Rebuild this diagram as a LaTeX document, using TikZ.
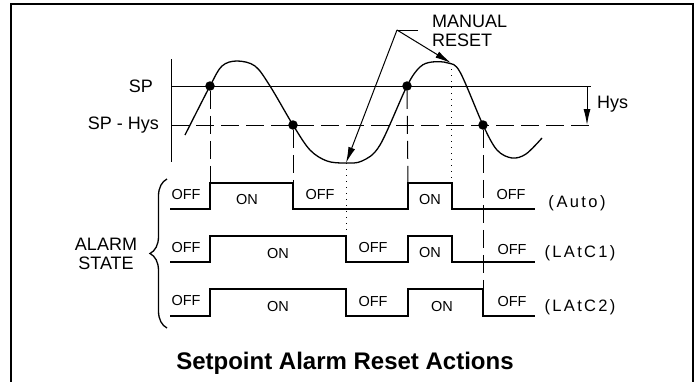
\documentclass[tikz,border=0pt]{standalone}
\usepackage{fontspec}
\setmainfont{Liberation Sans}
\usetikzlibrary{arrows.meta, positioning, calc, decorations.pathreplacing}

\begin{document}
\begin{tikzpicture}[x=1pt, y=-1pt,
  lbl/.style={font=\fontsize{18}{19.5}\selectfont, inner sep=0pt},
  st/.style={font=\fontsize{14.5}{16}\selectfont, inner sep=0pt},
  code/.style={font=\fontsize{16.5}{18}\selectfont\addfontfeature{LetterSpace=14}, inner sep=0pt},
  sig/.style={line width=1.3pt},
  fine/.style={line width=1pt},
  guide/.style={line width=1pt, dash pattern=on 18pt off 7pt},
  dots/.style={line width=1pt, dash pattern=on 1pt off 5pt},
  cross/.style={circle, fill, inner sep=0pt, minimum size=9.5pt},
  a/.style={-{Latex[length=16pt, width=7pt]}, line width=1pt}]
  \useasboundingbox (0,0) rectangle (699,381);
  % frame, open at the bottom
  \draw[line width=2.5pt] (11,390) -- (11,4) -- (693,4) -- (693,390);

  % process value against SP and SP - Hys
  \draw[fine] (171,59) -- (171,162);
  \draw[fine] (171,86) -- (591,86);
  \draw[guide] (171,125) -- (591,125);
  \node[lbl, anchor=east] (sp) at (153,86) {SP};
  \node[lbl, anchor=east] (sphys) at (159,125) {SP - Hys};
  \coordinate (hysA) at (587,86);
  \coordinate (hysB) at (587,125);
  \draw[a] (hysA) -- (hysB);
  \node[lbl, anchor=west] (hys) at (597,104) {Hys};

  \draw[sig] plot[smooth, tension=0.55] coordinates {
    (185,135) (210,86) (222,66) (237,61) (255,66) (270,86) (293,125)
    (310,150) (327,161) (345,163) (362,161) (380,145) (407,86) (420,67)
    (432,62) (448,63) (460,72) (483,125) (497,150) (512,158) (526,154) (542,138)};

  \coordinate (up1) at (210,86);
  \coordinate (dn1) at (293,125);
  \coordinate (up2) at (407,86);
  \coordinate (dn2) at (483,125);
  \coordinate (low) at (346,163);
  \coordinate (top) at (451,63);
  \node[cross] (d1) at (up1) {};
  \node[cross] (d2) at (dn1) {};
  \node[cross] (d3) at (up2) {};
  \node[cross] (d4) at (dn2) {};

  % manual reset callout
  \node[lbl, anchor=west, align=left] (manual) at (432,31) {MANUAL\\RESET};
  \coordinate (lead) at (397,30);
  \coordinate (leadend) at (418,30);
  \draw[fine] (leadend) -- (lead);
  \draw[a] (lead) -- (top);
  \draw[a] (lead) -- (low);

  % switching points carried down to the alarm states
  \draw[guide] (d1) -- (210,183);
  \draw[guide] (d2) -- (293,183);
  \draw[guide] (d3) -- (408,183);
  \draw[guide] (d4) -- (483,289);
  \draw[dots] (low) -- (346,236);
  \draw[dots] (top) -- (451,183);

  % alarm states
  \draw[sig] (170,209) -| (210,183) -| (293,209) -| (408,183) -| (452,209) -- (535,209);
  \draw[sig] (170,262) -| (210,236) -| (346,262) -| (408,236) -| (452,262) -- (535,262);
  \draw[sig] (170,316) -| (210,289) -| (346,316) -| (408,289) -| (483,316) -- (535,316);

  \node[st] (off1a) at (186,195) {OFF};
  \node[st] (on1a) at (247,200) {ON};
  \node[st] (off1b) at (320,195) {OFF};
  \node[st] (on1b) at (430,200) {ON};
  \node[st] (off1c) at (511,195) {OFF};
  \node[code] (auto) at (577,203) {(\,Auto\,)};

  \node[st] (off2a) at (186,248) {OFF};
  \node[st] (on2a) at (278,254) {ON};
  \node[st] (off2b) at (373,248) {OFF};
  \node[st] (on2b) at (430,253) {ON};
  \node[st] (off2c) at (512,250) {OFF};
  \node[code] (latc1) at (580,253) {(LAtC1)};

  \node[st] (off3a) at (186,301) {OFF};
  \node[st] (on3a) at (278,307) {ON};
  \node[st] (off3b) at (373,302) {OFF};
  \node[st] (on3b) at (442,307) {ON};
  \node[st] (off3c) at (512,302) {OFF};
  \node[code] (latc2) at (580,307) {(LAtC2)};

  \draw[line width=1.3pt, decorate, decoration={brace, amplitude=17pt}] (167,328) -- (167,179);
  \node[lbl, align=center] (alarm) at (106,254) {ALARM\\STATE};

  \node[font=\bfseries\fontsize{24}{26}\selectfont, inner sep=0pt] (title) at (345,363) {Setpoint Alarm Reset Actions};
\end{tikzpicture}
\end{document}
